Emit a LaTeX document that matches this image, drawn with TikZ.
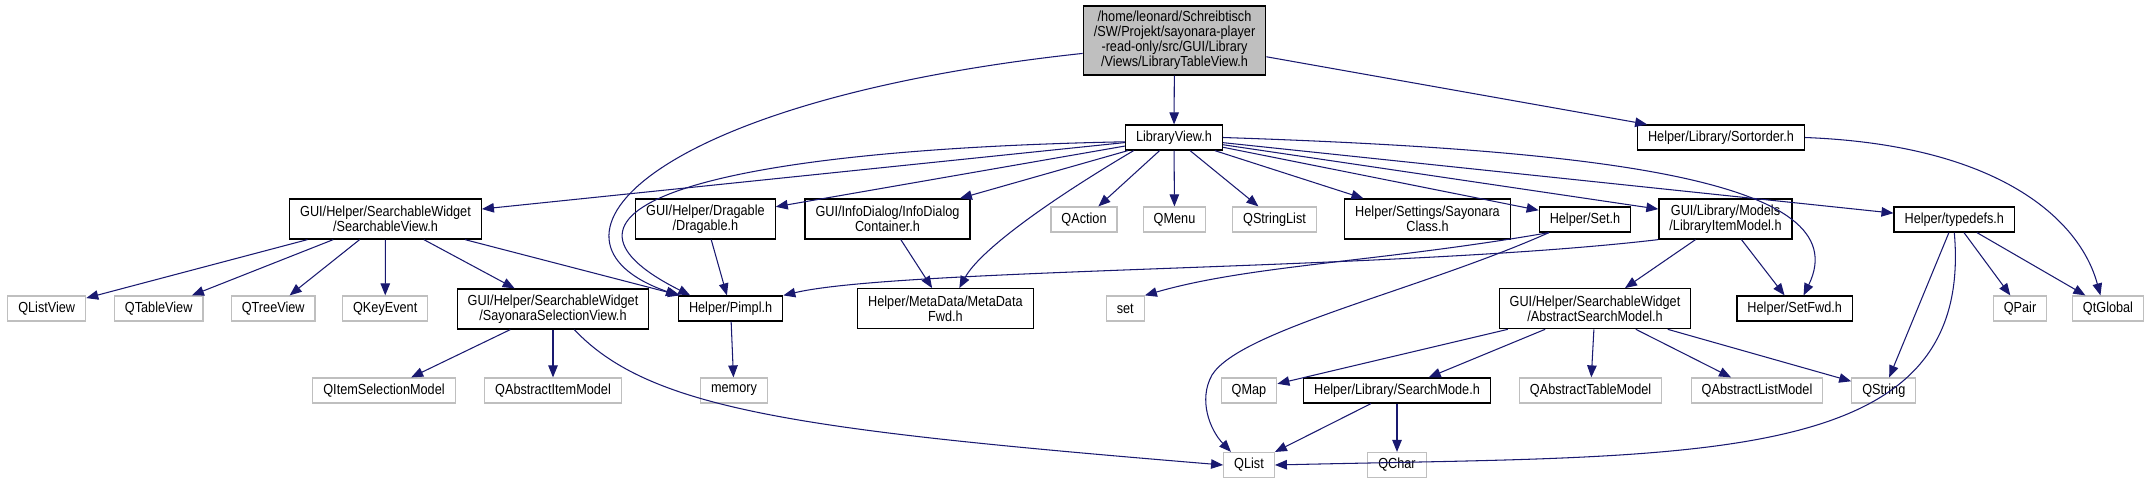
\documentclass[tikz,border=0pt]{standalone}
\usepackage{fontspec}
\setmainfont[FakeStretch=0.87]{Liberation Sans}
\usepackage{tikz}
\usetikzlibrary{arrows.meta}
\definecolor{edgeblue}{HTML}{191970}
\definecolor{extgrey}{HTML}{BFBFBF}

\begin{document}
\begin{tikzpicture}[
			x=0.02cm, y=-0.02cm,
			font=\fontsize{8.3}{8.5}\selectfont,
			box/.style={
				draw=black,
				line width=0.7pt,
				fill=white,
				align=center,
				inner xsep=0.21cm,
				inner ysep=0pt,
				minimum height=0.5cm
			},
			tall/.style={minimum height=0.8cm},
			ext/.style={box, draw=extgrey},
			rootbox/.style={box, fill=extgrey, minimum height=1.38cm},
			arr/.style={-{Triangle[length=0.24cm, width=0.19cm]}, color=edgeblue, line width=0.6pt}
			]
			
			\useasboundingbox (0,0) rectangle (2150,484);
			
			\node[rootbox] (root) at (1174.5,40.5) {/home/leonard/Schreibtisch\\/SW/Projekt/sayonara-player\\-read-only/src/GUI/Library\\/Views/LibraryTableView.h};
			\node[box] (lv) at (1174,137.5) {LibraryView.h};
			\node[box] (sort) at (1721,137.5) {Helper/Library/Sortorder.h};
			
			\node[box, tall] (sv) at (385.5,219) {GUI/Helper/SearchableWidget\\/SearchableView.h};
			\node[box, tall] (drag) at (705.4,219) {GUI/Helper/Dragable\\/Dragable.h};
			\node[box, tall] (info) at (887.5,219) {GUI/InfoDialog/InfoDialog\\Container.h};
			\node[ext] (qaction) at (1084,219.5) {QAction};
			\node[ext] (qmenu) at (1174.5,219.5) {QMenu};
			\node[ext] (qstrlist) at (1274.5,219.5) {QStringList};
			\node[box, tall] (sayclass) at (1427.5,219) {Helper/Settings/Sayonara\\Class.h};
			\node[box] (seth) at (1585,219.5) {Helper/Set.h};
			\node[box, tall] (lim) at (1725.5,219) {GUI/Library/Models\\/LibraryItemModel.h};
			\node[box] (typedefs) at (1954.3,219.5) {Helper/typedefs.h};
			
			\node[ext] (qlistview) at (46.7,308.5) {QListView};
			\node[ext] (qtableview) at (158.7,308.5) {QTableView};
			\node[ext] (qtreeview) at (273.2,308.5) {QTreeView};
			\node[ext] (qkeyevent) at (385.2,308.5) {QKeyEvent};
			\node[box, tall] (ssv) at (553,309) {GUI/Helper/SearchableWidget\\/SayonaraSelectionView.h};
			\node[box] (pimpl) at (730.6,308.5) {Helper/Pimpl.h};
			\node[box, tall] (mdfwd) at (945.4,308.7) {Helper/MetaData/MetaData\\Fwd.h};
			\node[ext] (stdset) at (1125.3,308.5) {set};
			\node[box, tall] (asm) at (1595,308.7) {GUI/Helper/SearchableWidget\\/AbstractSearchModel.h};
			\node[box] (setfwd) at (1794.7,308.5) {Helper/SetFwd.h};
			\node[ext] (qpair) at (2020,308.5) {QPair};
			\node[ext] (qtglobal) at (2108,308.5) {QtGlobal};
			
			\node[ext] (qism) at (384,390.5) {QItemSelectionModel};
			\node[ext] (qaim) at (553,390.5) {QAbstractItemModel};
			\node[ext] (memory) at (734,390.5) {memory};
			\node[ext] (qmap) at (1249,390.5) {QMap};
			\node[box] (smode) at (1397,390.5) {Helper/Library/SearchMode.h};
			\node[ext] (qatm) at (1590.6,390.5) {QAbstractTableModel};
			\node[ext] (qalm) at (1757,390.5) {QAbstractListModel};
			\node[ext] (qstring) at (1883.8,390.5) {QString};
			
			\node[ext] (qlist) at (1249,465) {QList};
			\node[ext] (qchar) at (1397,465) {QChar};
			
			\draw[arr] (root) -- (lv);
			\draw[arr] (root) -- (sort);
			\draw[arr] (root.188) .. controls (650,100) and (520,240) .. (pimpl.166);
			
			\draw[arr] (lv) -- (sv);
			\draw[arr] (lv.185) .. controls (700,150) and (520,210) .. (pimpl.162);
			\draw[arr] (lv) -- (drag);
			\draw[arr] (lv) -- (info);
			\draw[arr] (lv.198) .. controls (1050,200) and (980,250) .. (mdfwd.56);
			\draw[arr] (lv) -- (qaction);
			\draw[arr] (lv) -- (qmenu);
			\draw[arr] (lv) -- (qstrlist);
			\draw[arr] (lv) -- (sayclass);
			\draw[arr] (lv) -- (seth);
			\draw[arr] (lv) -- (lim);
			\draw[arr] (lv) -- (typedefs);
			\draw[arr] (lv.east) .. controls (1600,150) and (1860,180) .. (setfwd.56);
			
			\draw[arr] (sort.east) .. controls (2000,145) and (2080,220) .. (qtglobal.120);
			
			\draw[arr] (sv) -- (qlistview);
			\draw[arr] (sv) -- (qtableview);
			\draw[arr] (sv) -- (qtreeview);
			\draw[arr] (sv) -- (qkeyevent);
			\draw[arr] (sv) -- (ssv);
			\draw[arr] (sv) -- (pimpl);
			
			\draw[arr] (drag) -- (pimpl);
			\draw[arr] (info) -- (mdfwd);
			\draw[arr] (pimpl) -- (memory);
			
			\draw[arr] (ssv) -- (qism);
			\draw[arr] (ssv) -- (qaim);
			\draw[arr] (ssv.-44) .. controls (650,410) and (800,430) .. (qlist.west);
			
			\draw[arr] (seth.200) .. controls (1380,262) and (1250,265) .. (stdset.north east);
			\draw[arr] (seth.200) .. controls (1420,290) and (1240,330) .. (1212,375) .. controls (1198,400) and (1210,430) .. (qlist.144);
			
			\draw[arr] (lim) -- (asm);
			\draw[arr] (lim) -- (setfwd);
			\draw[arr] (lim.south west) .. controls (1400,270) and (900,268) .. (pimpl.north east);
			
			\draw[arr] (typedefs) -- (qstring);
			\draw[arr] (typedefs) -- (qpair);
			\draw[arr] (typedefs) -- (qtglobal);
			\draw[arr] (typedefs.south) .. controls (1975,470) and (1700,455) .. (qlist.east);
			
			\draw[arr] (asm) -- (qmap);
			\draw[arr] (asm) -- (smode);
			\draw[arr] (asm) -- (qatm);
			\draw[arr] (asm) -- (qalm);
			\draw[arr] (asm) -- (qstring);
			
			\draw[arr] (smode) -- (qlist);
			\draw[arr] (smode) -- (qchar);
			
		\end{tikzpicture}
\end{document}
